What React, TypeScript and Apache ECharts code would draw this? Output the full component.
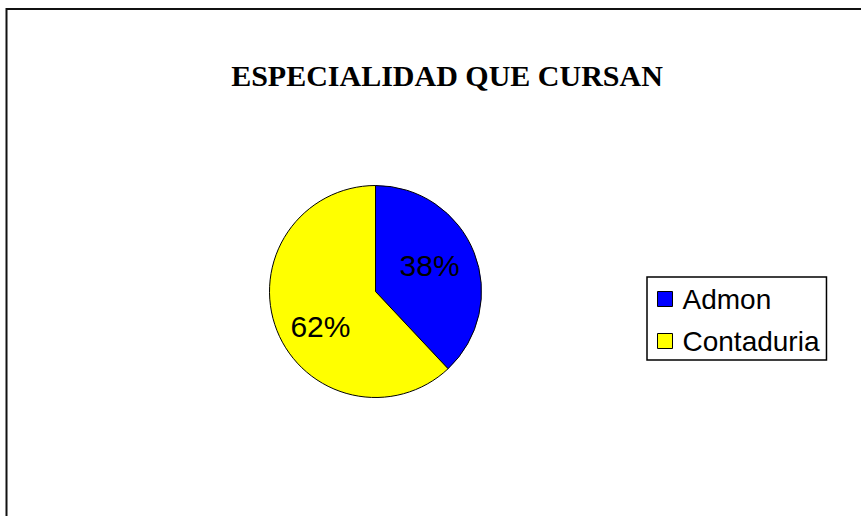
import React, { useEffect, useRef } from "react";
import * as echarts from "echarts";

const titleText = "ESPECIALIDAD QUE CURSAN";
const categories = ["Admon", "Contaduria"];
const values = [38, 62];
const colors = ["#0000FF", "#FFFF00"];

export default function App() {
  const ref = useRef<HTMLDivElement>(null);
  useEffect(() => {
    if (!ref.current) return;
    const chart = echarts.init(ref.current, null, { renderer: "svg" });
    chart.setOption({
      animation: false,
      backgroundColor: "#ffffff",
      title: {
        text: titleText,
        left: 442,
        textAlign: "center",
        top: 55,
        textStyle: {
          fontFamily: "'Liberation Serif', 'Times New Roman', serif",
          fontWeight: "bold",
          fontSize: 30,
          color: "#000",
        },
      },
      legend: {
        orient: "vertical",
        left: 647,
        top: 277,
        padding: [8, 7, 5, 10],
        itemGap: 14,
        itemWidth: 15,
        itemHeight: 15,
        icon: "rect",
        borderColor: "#000",
        borderWidth: 1.5,
        data: categories,
        itemStyle: { borderColor: "#000", borderWidth: 1 },
        textStyle: {
          fontFamily: "'Liberation Sans', Arial, sans-serif",
          fontSize: 28,
          color: "#000",
          padding: [0, 0, 0, 5],
        },
      },
      graphic: [
        {
          type: "rect",
          shape: { x: 6.5, y: 9, width: 1000, height: 1000 },
          style: { fill: "none", stroke: "#111", lineWidth: 2 },
          silent: true,
        },
      ],
      series: [
        {
          type: "pie",
          center: [375.5, 291.5],
          radius: 106,
          startAngle: 90,
          clockwise: true,
          data: categories.map((c, i) => ({
            name: c,
            value: values[i],
            itemStyle: { color: colors[i] },
          })),
          itemStyle: { borderColor: "#000", borderWidth: 1 },
          label: {
            show: true,
            position: "inside",
            formatter: "{d}%",
            fontFamily: "'Liberation Sans', Arial, sans-serif",
            fontSize: 30,
            color: "#000",
          },
          labelLayout: (p: any) =>
            p.dataIndex === 0 ? { dx: 2, dy: -5 } : { dx: -3, dy: 14 },
          labelLine: { show: false },
          emphasis: { disabled: true },
        },
      ],
    });
    return () => chart.dispose();
  }, []);
  return (
    <div
      ref={ref}
      style={{ position: "absolute", left: 0, top: 0, width: 861, height: 516 }}
    />
  );
}
